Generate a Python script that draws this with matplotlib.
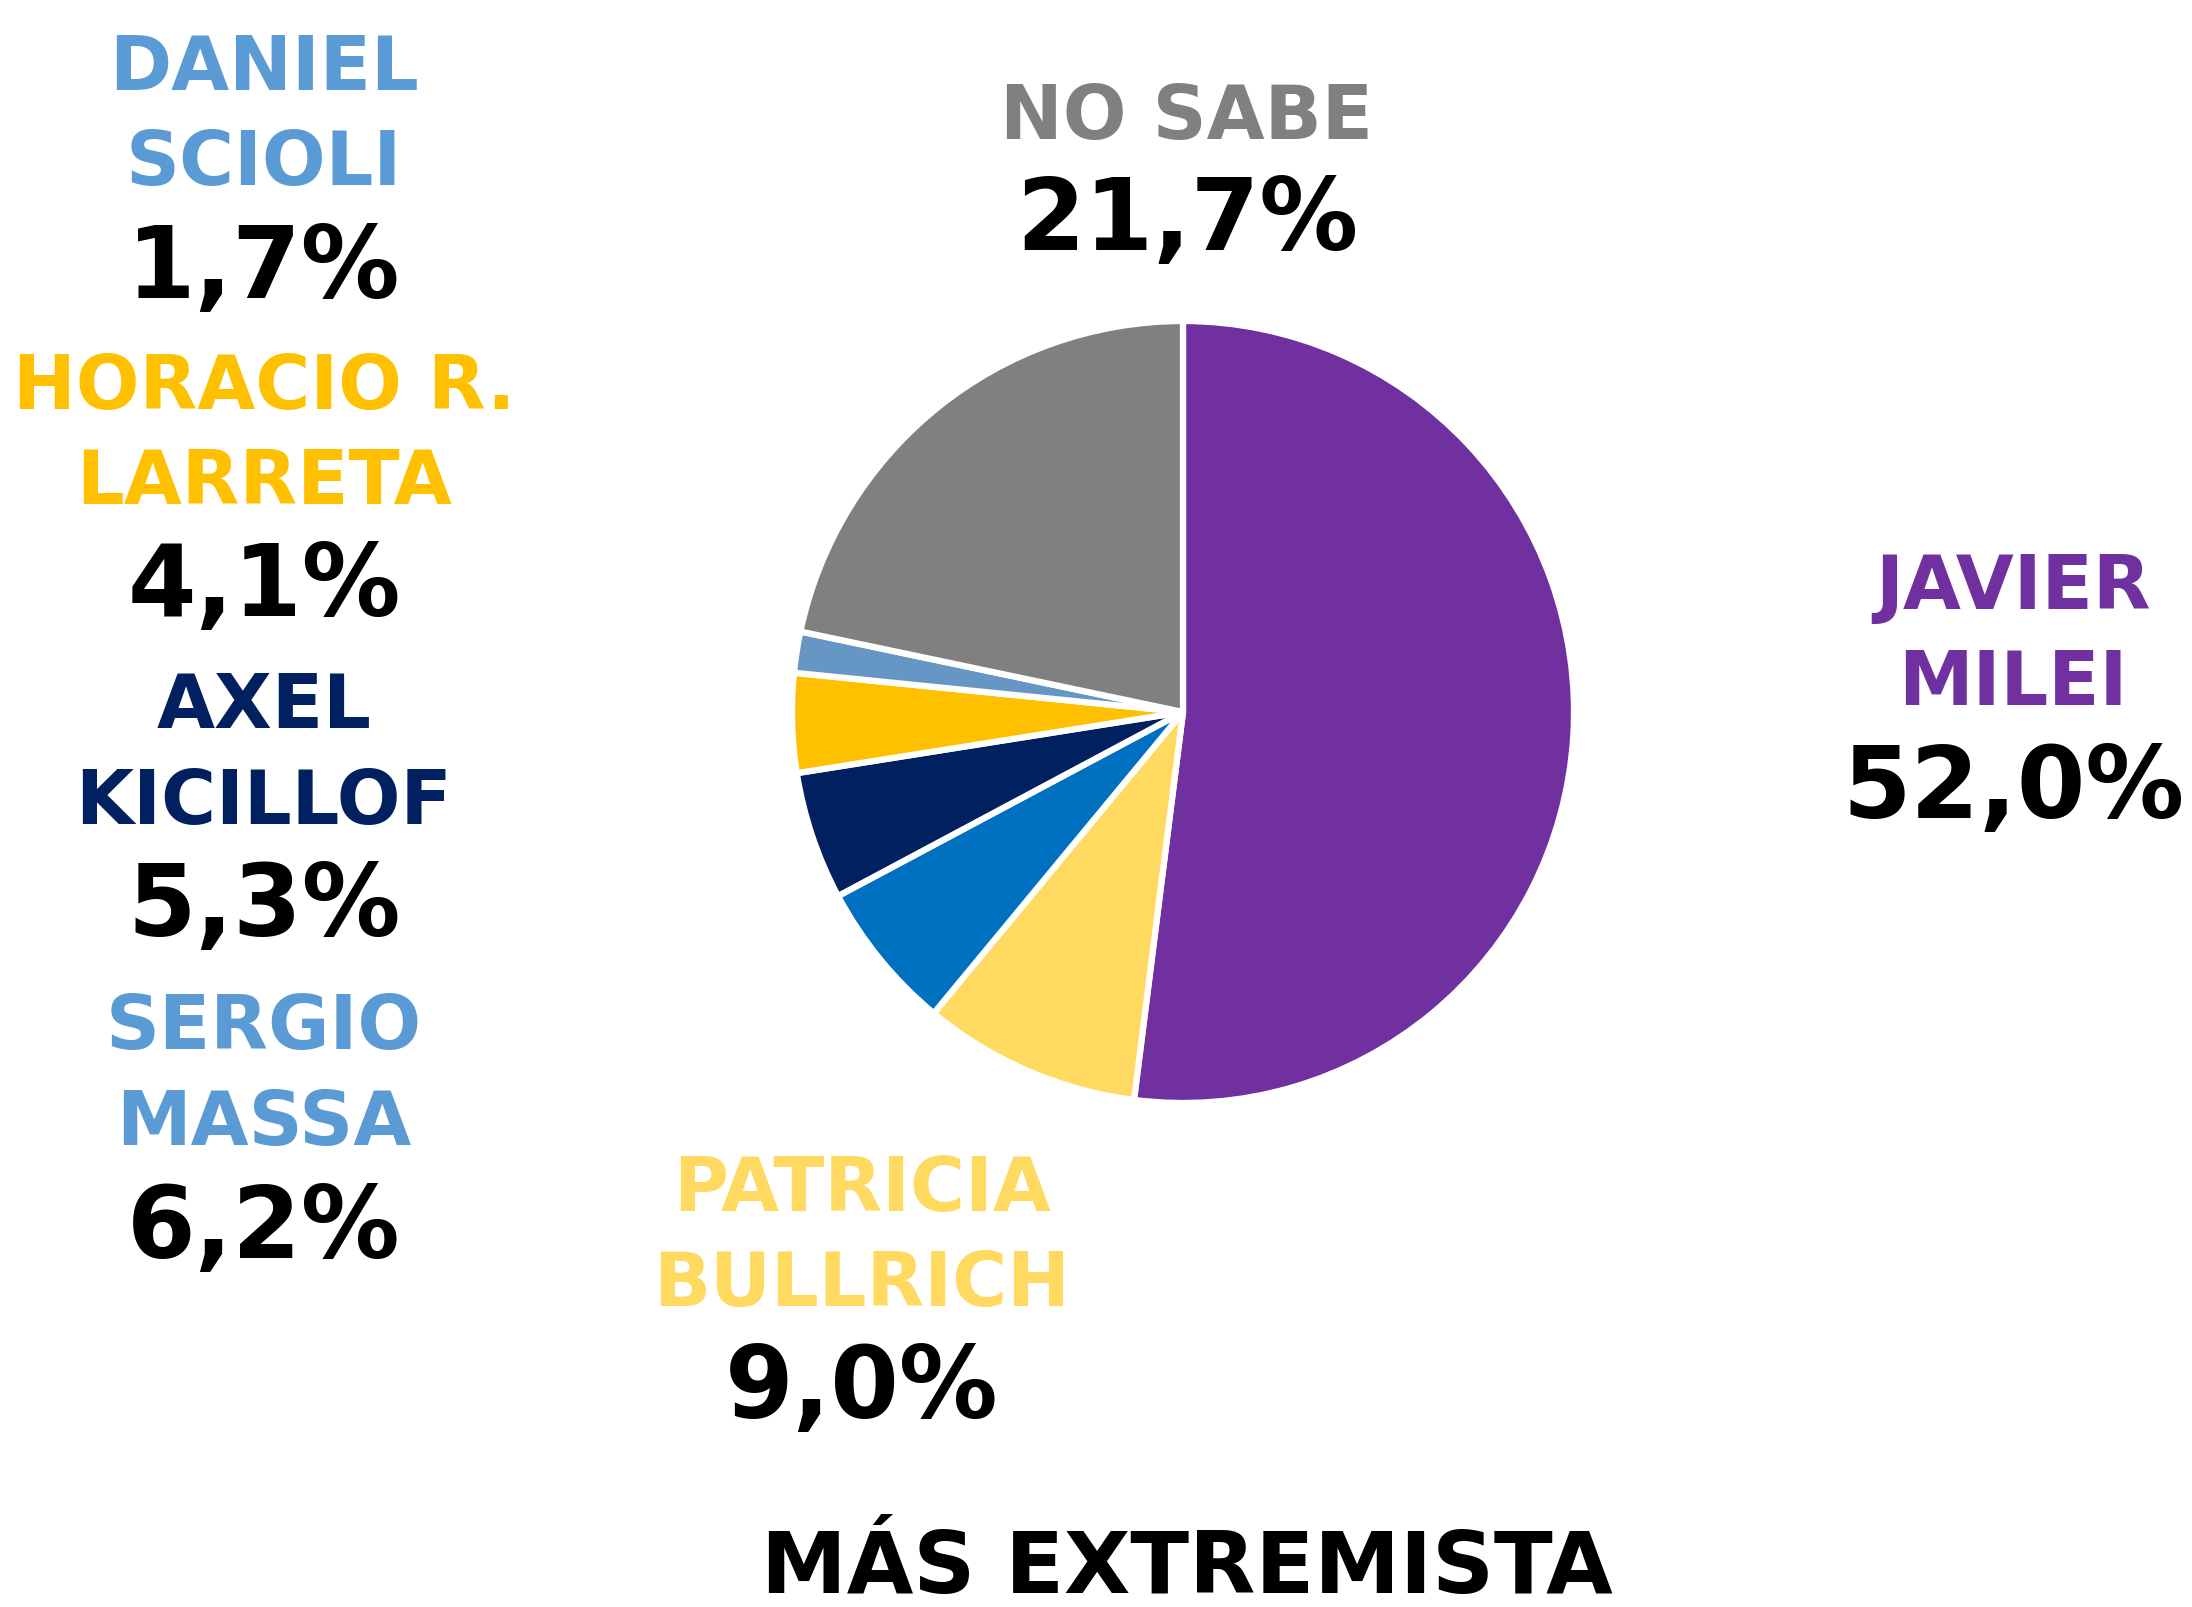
import matplotlib
matplotlib.use('Agg')
import matplotlib.pyplot as plt

# datos (orden horario desde arriba)
nombres = ['JAVIER\nMILEI', 'PATRICIA\nBULLRICH', 'SERGIO\nMASSA', 'AXEL\nKICILLOF',
           'HORACIO R.\nLARRETA', 'DANIEL\nSCIOLI', 'NO SABE']
valores = [52.0, 9.0, 6.2, 5.3, 4.1, 1.7, 21.7]
colores = ['#7030A0', '#FFD960', '#0070C0', '#002060', '#FFC000', '#6697C4', '#808080']
colores_txt = ['#7030A0', '#FFD960', '#5B9BD5', '#002060', '#FFC000', '#5B9BD5', '#808080']
titulo = 'MÁS EXTREMISTA'

# posiciones de etiquetas en pixeles (x, y de la primera linea)
pos_txt = [(2013, 585), (862, 1186), (264, 1025), (264, 704), (264, 384), (264, 65), (1187, 114)]

W, H = 2192, 1608
fig = plt.figure(figsize=(W / 100, H / 100), dpi=100)

cx, cy, r = 1183, 713, 391
ax = fig.add_axes([(cx - r) / W, (H - cy - r) / H, 2 * r / W, 2 * r / H])
ax.pie(valores, colors=colores, startangle=90, counterclock=False,
       wedgeprops=dict(edgecolor='white', linewidth=4.5, joinstyle='round'))
ax.set_xlim(-1.0, 1.0)
ax.set_ylim(-1.0, 1.0)
ax.axis('off')

fuente = 'DejaVu Sans'


def fx(px):
    return px / W


def fy(py):
    return 1 - py / H


for nombre, v, c, (x, y) in zip(nombres, valores, colores_txt, pos_txt):
    lineas = nombre.split('\n')
    for i, l in enumerate(lineas):
        fig.text(fx(x), fy(y + 4 + i * 96), l, color=c, fontsize=54, fontweight='heavy',
                 family=fuente, ha='center', va='center')
    yy = y + (len(lineas) - 1) * 96 + 105
    fig.text(fx(x), fy(yy + 4), '{:.1f}%'.format(v).replace('.', ','), color='black',
             fontsize=71, fontweight='heavy', family=fuente, ha='center', va='center')

fig.text(fx(1187), fy(1570), titulo, color='black', fontsize=62, fontweight='heavy',
         family=fuente, ha='center', va='center')

fig.savefig('out.png', dpi=100, facecolor='white')
